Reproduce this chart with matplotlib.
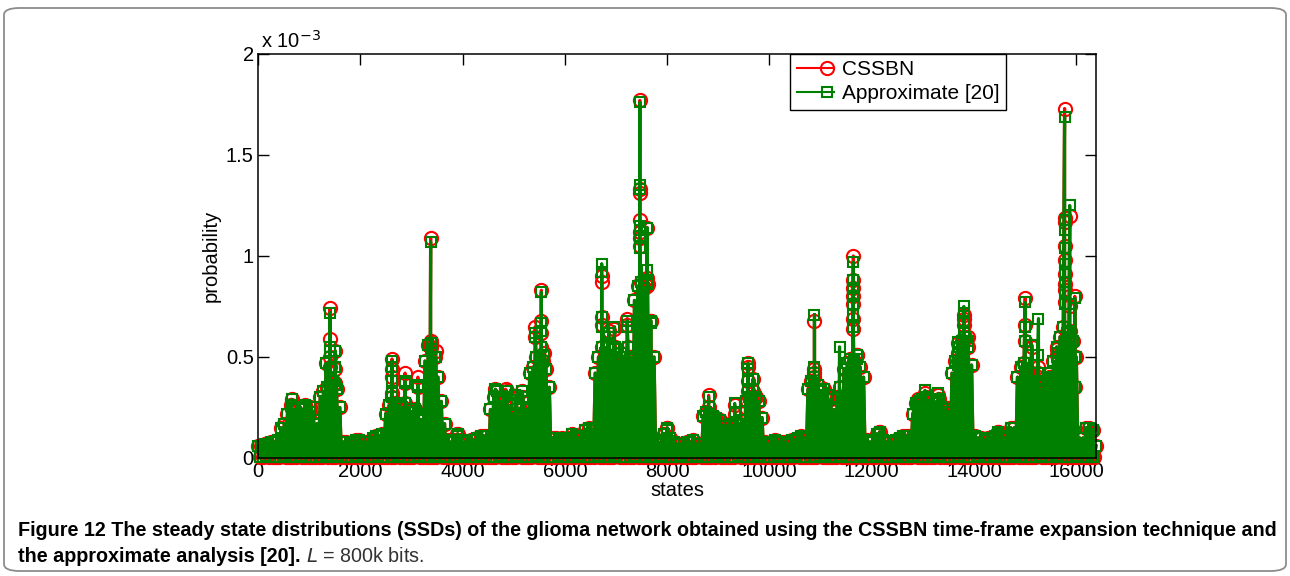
import numpy as np
import matplotlib.pyplot as plt
from matplotlib.patches import FancyBboxPatch
from matplotlib.legend_handler import HandlerLine2DCompound

# steady state probabilities, in units of 1e-3
# upper envelope, read every 64 states (0 .. 16384)
grid_top = [
    0.06, 0.06, 0.07, 0.07, 0.08, 0.08, 0.09, 0.15, 0.17, 0.22, 0.26, 0.24, 0.22, 0.25, 0.24, 0.22,
    0.23, 0.19, 0.17, 0.30, 0.33, 0.35, 0.36, 0.38, 0.34, 0.25, 0.08, 0.08, 0.07, 0.08, 0.09, 0.09,
    0.08, 0.08, 0.08, 0.10, 0.11, 0.11, 0.12, 0.22, 0.26, 0.30, 0.27, 0.26, 0.25, 0.27, 0.24, 0.23,
    0.24, 0.22, 0.19, 0.48, 0.56, 0.57, 0.50, 0.40, 0.28, 0.17, 0.09, 0.08, 0.09, 0.12, 0.09, 0.08,
    0.08, 0.09, 0.09, 0.10, 0.11, 0.11, 0.11, 0.24, 0.30, 0.33, 0.28, 0.30, 0.33, 0.26, 0.22, 0.27,
    0.24, 0.30, 0.24, 0.42, 0.45, 0.50, 0.47, 0.48, 0.44, 0.35, 0.10, 0.10, 0.09, 0.10, 0.09, 0.10,
    0.12, 0.11, 0.10, 0.11, 0.14, 0.15, 0.14, 0.42, 0.50, 0.55, 0.52, 0.56, 0.50, 0.55, 0.48, 0.52,
    0.47, 0.55, 0.50, 0.78, 0.85, 0.87, 0.84, 0.86, 0.68, 0.50, 0.09, 0.08, 0.12, 0.15, 0.10, 0.08,
    0.07, 0.07, 0.07, 0.08, 0.08, 0.09, 0.07, 0.07, 0.21, 0.23, 0.22, 0.21, 0.20, 0.19, 0.16, 0.16,
    0.17, 0.16, 0.18, 0.17, 0.19, 0.28, 0.30, 0.29, 0.30, 0.28, 0.20, 0.08, 0.07, 0.08, 0.09, 0.08,
    0.08, 0.08, 0.07, 0.09, 0.09, 0.10, 0.11, 0.10, 0.34, 0.38, 0.40, 0.36, 0.33, 0.34, 0.31, 0.29,
    0.24, 0.30, 0.28, 0.44, 0.47, 0.49, 0.48, 0.51, 0.45, 0.40, 0.09, 0.08, 0.09, 0.12, 0.13, 0.09,
    0.08, 0.08, 0.08, 0.09, 0.10, 0.11, 0.11, 0.11, 0.22, 0.27, 0.28, 0.29, 0.30, 0.26, 0.24, 0.27,
    0.29, 0.25, 0.24, 0.14, 0.42, 0.48, 0.55, 0.58, 0.60, 0.55, 0.46, 0.11, 0.10, 0.10, 0.09, 0.10,
    0.10, 0.11, 0.13, 0.11, 0.10, 0.11, 0.15, 0.15, 0.40, 0.45, 0.47, 0.44, 0.42, 0.38, 0.36, 0.34,
    0.38, 0.36, 0.40, 0.48, 0.55, 0.60, 0.65, 0.62, 0.63, 0.58, 0.50, 0.10, 0.10, 0.15, 0.15, 0.14,
    0.06,
]

# lower values between the envelope samples
grid_floor = [
    0.006, 0.004, 0.008, 0.005, 0.007, 0.004, 0.006, 0.009, 0.005, 0.007, 0.004, 0.006, 0.008, 0.005, 0.007, 0.004,
    0.005, 0.007, 0.004, 0.006, 0.009, 0.005, 0.006, 0.004, 0.008, 0.005, 0.007, 0.006, 0.004, 0.005, 0.008, 0.006,
    0.004, 0.007, 0.005, 0.006, 0.008, 0.004, 0.005, 0.007, 0.006, 0.004, 0.009, 0.005, 0.006, 0.007, 0.004, 0.005,
    0.008, 0.006, 0.004, 0.007, 0.005, 0.006, 0.004, 0.008, 0.005, 0.007, 0.006, 0.004, 0.005, 0.009, 0.006, 0.004,
    0.007, 0.005, 0.006, 0.008, 0.004, 0.005, 0.007, 0.006, 0.004, 0.008, 0.005, 0.006, 0.007, 0.004, 0.005, 0.009,
    0.006, 0.004, 0.007, 0.005, 0.008, 0.006, 0.004, 0.005, 0.007, 0.006, 0.004, 0.008, 0.005, 0.006, 0.007, 0.004,
    0.005, 0.008, 0.006, 0.004, 0.007, 0.005, 0.006, 0.009, 0.004, 0.005, 0.007, 0.006, 0.004, 0.008, 0.005, 0.006,
    0.007, 0.004, 0.005, 0.008, 0.006, 0.004, 0.007, 0.005, 0.006, 0.004, 0.008, 0.005, 0.007, 0.006, 0.004, 0.005,
    0.009, 0.006, 0.004, 0.007, 0.005, 0.006, 0.008, 0.004, 0.005, 0.007, 0.006, 0.004, 0.008, 0.005, 0.006, 0.007,
    0.004, 0.005, 0.008, 0.006, 0.004, 0.007, 0.005, 0.006, 0.009, 0.004, 0.005, 0.007, 0.006, 0.004, 0.008, 0.005,
    0.006, 0.007, 0.004, 0.005, 0.008, 0.006, 0.004, 0.007, 0.005, 0.006, 0.004, 0.008, 0.005, 0.007, 0.006, 0.004,
    0.005, 0.009, 0.006, 0.004, 0.007, 0.005, 0.006, 0.008, 0.004, 0.005, 0.007, 0.006, 0.004, 0.008, 0.005, 0.006,
    0.007, 0.004, 0.005, 0.009, 0.006, 0.004, 0.007, 0.005, 0.008, 0.006, 0.004, 0.005, 0.007, 0.006, 0.004, 0.008,
    0.005, 0.006, 0.007, 0.004, 0.005, 0.008, 0.006, 0.004, 0.007, 0.005, 0.006, 0.009, 0.004, 0.005, 0.007, 0.006,
    0.004, 0.008, 0.005, 0.006, 0.007, 0.004, 0.005, 0.008, 0.006, 0.004, 0.007, 0.005, 0.006, 0.004, 0.008, 0.005,
    0.007, 0.006, 0.004, 0.005, 0.009, 0.006, 0.004, 0.007, 0.005, 0.006, 0.008, 0.004, 0.005, 0.007, 0.006, 0.004,
]

# isolated high states (several markers stacked on one stem)
spike_states = [
    660, 660, 920, 1020, 1330, 1410, 1410, 1410, 1410, 1510, 1510, 1510,
    2620, 2620, 2620, 2620, 2875, 2875, 3125, 3125, 3375, 3375, 3375, 3480,
    3900, 4640, 4840, 5030, 5160, 5420, 5420, 5540, 5540, 5540, 5540, 5600,
    6720, 6720, 6720, 6720, 6860, 6860, 6970, 6970, 7220, 7220, 7280, 7280,
    7465, 7465, 7465, 7465, 7465, 7465, 7465, 7610, 7610, 7610, 7680, 8000,
    8810, 8810, 9320, 9320, 9580, 9580, 9580, 9580, 9680, 9680,
    10880, 10880, 10880, 11370, 11370,
    11640, 11640, 11640, 11640, 11640, 11640, 11640, 11720, 12150,
    12900, 12900, 13040, 13040, 13300, 13300, 13490, 13690, 13690, 13690,
    13800, 13800, 13800, 13800, 13880, 14470, 15000, 15000, 15000, 15130,
    15260, 15260, 15260, 15490, 15490, 15620, 15620,
    15770, 15770, 15770, 15770, 15770, 15770, 15770, 15770, 15770,
    15870, 15870, 15970, 15970, 15970,
]
spike_cssbn = [
    0.29, 0.24, 0.26, 0.25, 0.47, 0.74, 0.59, 0.50, 0.45, 0.53, 0.44, 0.37,
    0.49, 0.44, 0.40, 0.32, 0.42, 0.37, 0.40, 0.35, 1.09, 0.58, 0.55, 0.53,
    0.12, 0.34, 0.34, 0.30, 0.33, 0.65, 0.60, 0.83, 0.68, 0.62, 0.55, 0.52,
    0.90, 0.87, 0.70, 0.66, 0.63, 0.55, 0.64, 0.55, 0.69, 0.66, 0.50, 0.46,
    1.77, 1.33, 1.31, 1.18, 1.12, 1.09, 1.05, 1.14, 0.89, 0.85, 0.68, 0.15,
    0.31, 0.25, 0.26, 0.22, 0.47, 0.45, 0.38, 0.33, 0.39, 0.33,
    0.68, 0.44, 0.42, 0.35, 0.30,
    1.00, 0.88, 0.84, 0.80, 0.76, 0.69, 0.64, 0.51, 0.13,
    0.29, 0.25, 0.32, 0.28, 0.31, 0.27, 0.245, 0.57, 0.52, 0.48,
    0.71, 0.69, 0.66, 0.60, 0.60, 0.13, 0.79, 0.66, 0.58, 0.55,
    0.45, 0.42, 0.40, 0.42, 0.40, 0.54, 0.51,
    1.73, 1.19, 1.17, 1.05, 0.98, 0.91, 0.86, 0.83, 0.77,
    1.20, 0.75, 0.80, 0.50, 0.35,
]
spike_approx = [
    0.29, 0.25, 0.26, 0.25, 0.47, 0.72, 0.55, 0.53, 0.44, 0.53, 0.45, 0.36,
    0.48, 0.45, 0.38, 0.32, 0.38, 0.37, 0.36, 0.35, 1.07, 0.57, 0.54, 0.50,
    0.11, 0.34, 0.33, 0.31, 0.33, 0.62, 0.60, 0.82, 0.67, 0.63, 0.55, 0.51,
    0.96, 0.92, 0.70, 0.65, 0.62, 0.56, 0.65, 0.54, 0.68, 0.65, 0.49, 0.47,
    1.76, 1.35, 1.33, 1.15, 1.13, 1.10, 1.04, 1.14, 0.93, 0.87, 0.67, 0.14,
    0.30, 0.25, 0.27, 0.23, 0.47, 0.44, 0.38, 0.34, 0.39, 0.34,
    0.71, 0.45, 0.42, 0.55, 0.35,
    0.97, 0.88, 0.84, 0.80, 0.76, 0.71, 0.65, 0.49, 0.12,
    0.27, 0.24, 0.335, 0.29, 0.32, 0.28, 0.23, 0.575, 0.52, 0.46,
    0.75, 0.72, 0.68, 0.62, 0.58, 0.12, 0.77, 0.65, 0.58, 0.56,
    0.69, 0.51, 0.42, 0.42, 0.39, 0.52, 0.50,
    1.69, 1.18, 1.13, 1.04, 0.96, 0.92, 0.87, 0.82, 0.76,
    1.25, 0.76, 0.79, 0.50, 0.35,
]

x_ticks = [0, 2000, 4000, 6000, 8000, 10000, 12000, 14000, 16000]
y_ticks = [0, 0.5, 1, 1.5, 2]
y_tick_labels = ['0', '0.5', '1', '1.5', '2']
series_names = ['CSSBN', 'Approximate [20]']

# put the samples in state order
step = 64
top_states = np.arange(len(grid_top)) * step
floor_states = top_states[:-1] + step // 2
states = np.concatenate([top_states, floor_states, spike_states])
cssbn = np.concatenate([grid_top, grid_floor, spike_cssbn])
approx = np.concatenate([grid_top, grid_floor, spike_approx])
order = np.argsort(states, kind='stable')
states, cssbn, approx = states[order], cssbn[order], approx[order]


# matlab-like legend entry: marker near the right end of the line
class EndMarker(HandlerLine2DCompound):
    def get_xdata(self, legend, xdescent, ydescent, width, height, fontsize):
        xdata = np.array([-xdescent, -xdescent + width])
        return xdata, np.array([-xdescent + 0.8 * width])


plt.rcParams['font.family'] = ['Liberation Sans', 'DejaVu Sans']

fig = plt.figure(figsize=(12.9, 5.76), dpi=100)
ax = fig.add_axes([0.2, 0.2049, 0.6496, 0.7014])

l1, = ax.plot(states, cssbn, '-o', color='#ff0000', mfc='none', ms=9.5, mew=1.5,
              lw=2.3, clip_on=False, label=series_names[0])
l2, = ax.plot(states, approx, '-s', color='#008000', mfc='none', ms=7.5, mew=1.5,
              lw=2.3, clip_on=False, label=series_names[1])

ax.set_xlim(0, 16384)
ax.set_ylim(0, 2)
ax.set_xticks(x_ticks)
ax.set_xticklabels([str(t) for t in x_ticks])
ax.set_yticks(y_ticks)
ax.set_yticklabels(y_tick_labels)
ax.tick_params(direction='in', length=8, width=1, labelsize=14.5, top=True, right=True, pad=3)
for sp in ax.spines.values():
    sp.set_linewidth(1.1)
ax.set_xlabel('states', fontsize=14.5, labelpad=0)
ax.set_ylabel('probability', fontsize=14.5, labelpad=4)
ax.text(0.004, 1.005, r'x 10$^{-3}$', transform=ax.transAxes, fontsize=14.5,
        ha='left', va='bottom')

leg = ax.legend(loc='upper right', bbox_to_anchor=(0.893, 1.0), fontsize=15,
                numpoints=1, handlelength=1.8, handletextpad=0.4, borderpad=0.3,
                labelspacing=0.25, fancybox=False, framealpha=1, borderaxespad=0,
                handler_map={l1: EndMarker(), l2: EndMarker()})
leg.get_frame().set_edgecolor('black')
leg.get_frame().set_linewidth(1.0)
for h in leg.get_lines():
    h.set_linewidth(1.5)

# caption under the figure
cap_font = ['Liberation Sans Narrow', 'Liberation Sans', 'DejaVu Sans']
line1 = ('Figure 12 The steady state distributions (SSDs) of the glioma network obtained '
         'using the CSSBN time-frame expansion technique and')
t1 = fig.text(18 / 1290, 1 - 530 / 576, line1, fontsize=13, fontweight='bold',
              family=cap_font, ha='left', va='center')
t2 = fig.text(18 / 1290, 1 - 556 / 576, 'the approximate analysis [20].', fontsize=13,
              fontweight='bold', family=cap_font, ha='left', va='center')
fig.canvas.draw()
r = fig.canvas.get_renderer()
w = t1.get_window_extent(r).width
size = 13 * 1254 / w
t1.set_fontsize(size)
t2.set_fontsize(size)
fig.canvas.draw()
x2 = t2.get_window_extent(r).x1 / 1290 + 0.004
fig.text(x2, 1 - 556 / 576, r'$L$ = 800k bits.', fontsize=size, family=cap_font,
         color='#333333', ha='left', va='center')

# rounded frame around the whole figure
frame = FancyBboxPatch((4 / 1290, 5 / 576), 1282 / 1290, 563 / 576,
                       boxstyle='round,pad=0,rounding_size=0.012',
                       transform=fig.transFigure, fill=False,
                       edgecolor='#8c8c8c', lw=1.3)
fig.patches.append(frame)

fig.savefig('out.png', dpi=100)
